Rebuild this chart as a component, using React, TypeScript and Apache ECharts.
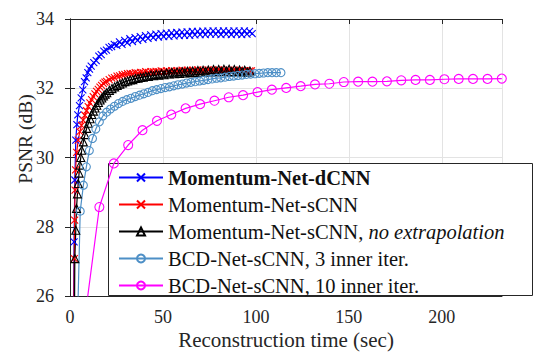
import React, { useEffect, useRef } from "react";
import * as echarts from "echarts";

const seriesNames = [
  "Momentum-Net-dCNN",
  "Momentum-Net-sCNN",
  "Momentum-Net-sCNN, no extrapolation",
  "BCD-Net-sCNN, 3 inner iter.",
  "BCD-Net-sCNN, 10 inner iter.",
];

const xTitle = "Reconstruction time (sec)";
const yTitle = "PSNR (dB)";
const xTicks = [0, 50, 100, 150, 200];
const yTicks = [26, 28, 30, 32, 34];

// Momentum-Net-dCNN
const dcnnTime = [1.5, 2.2, 2.6, 3.1, 3.7, 4.2, 5.1, 6.0, 6.9, 7.8, 8.7, 9.6, 10.5, 11.4, 12.8, 14.1, 15.5, 16.8, 18.2, 19.6, 21.0, 22.4, 23.8, 25.2, 26.6, 28.0, 29.4, 30.8, 32.2, 33.6, 35.0, 36.4, 37.8, 39.2, 40.6, 42.0, 43.4, 44.8, 46.2, 47.6, 49.0, 50.4, 51.8, 53.2, 54.6, 56.0, 57.4, 58.8, 60.2, 61.6, 63.0, 64.4, 65.8, 67.2, 68.6, 70.0, 71.4, 72.8, 74.2, 75.6, 77.0, 78.4, 79.8, 81.2, 82.6, 84.0, 85.4, 86.8, 88.2, 89.6, 91.0, 92.4, 93.8, 95.2, 96.6, 98.0];
const dcnnPsnr = [23.0, 27.56, 29.35, 30.5, 30.95, 31.23, 31.5, 31.72, 31.95, 32.19, 32.3, 32.45, 32.55, 32.64, 32.74, 32.8, 32.93, 32.97, 33.07, 33.1, 33.18, 33.2, 33.27, 33.24, 33.34, 33.27, 33.38, 33.31, 33.43, 33.35, 33.46, 33.38, 33.49, 33.41, 33.52, 33.44, 33.54, 33.46, 33.56, 33.48, 33.58, 33.49, 33.59, 33.5, 33.6, 33.51, 33.61, 33.52, 33.62, 33.53, 33.63, 33.53, 33.64, 33.54, 33.64, 33.55, 33.65, 33.55, 33.65, 33.56, 33.66, 33.56, 33.65, 33.55, 33.66, 33.56, 33.65, 33.55, 33.66, 33.56, 33.65, 33.55, 33.66, 33.56, 33.64, 33.58];

// Momentum-Net-sCNN
const scnnTime = [1.8, 2.3, 2.5, 2.7, 3.0, 3.6, 4.4, 5.3, 6.2, 7.1, 8.0, 8.9, 9.8, 10.7, 11.6, 12.5, 13.4, 14.3, 15.2, 16.1, 17.0, 17.9, 18.8, 19.7, 21.1, 22.5, 23.9, 25.3, 26.7, 28.1, 29.5, 30.9, 32.3, 33.7, 35.1, 36.5, 37.9, 39.3, 40.7, 42.1, 43.5, 44.9, 46.3, 47.7, 49.1, 50.5, 51.9, 53.3, 54.7, 56.1, 57.5, 58.9, 60.3, 61.7, 63.1, 64.5, 65.9, 67.3, 68.7, 70.1, 71.5, 72.9, 74.3, 75.7, 77.1, 78.5, 79.9, 81.3, 82.7, 84.1, 85.5, 86.9, 88.3, 89.7, 91.1, 92.5, 93.9, 95.3, 96.7, 97.6];
const scnnPsnr = [23.5, 27.08, 28.19, 29.06, 29.64, 30.15, 30.5, 30.75, 30.93, 31.08, 31.22, 31.35, 31.47, 31.58, 31.67, 31.76, 31.84, 31.91, 31.97, 32.03, 32.08, 32.14, 32.18, 32.2, 32.25, 32.29, 32.31, 32.35, 32.36, 32.39, 32.4, 32.42, 32.43, 32.42, 32.45, 32.44, 32.46, 32.45, 32.48, 32.46, 32.48, 32.47, 32.49, 32.47, 32.5, 32.48, 32.5, 32.48, 32.51, 32.49, 32.51, 32.49, 32.52, 32.5, 32.52, 32.49, 32.52, 32.5, 32.53, 32.5, 32.52, 32.5, 32.53, 32.5, 32.52, 32.5, 32.53, 32.49, 32.52, 32.5, 32.52, 32.49, 32.52, 32.5, 32.52, 32.49, 32.51, 32.49, 32.5, 32.5];

// Momentum-Net-sCNN, no extrapolation
const noexTime = [2.2, 2.6, 3.1, 3.5, 4.0, 4.4, 4.9, 5.3, 5.8, 6.3, 7.2, 8.1, 9.0, 9.9, 10.8, 11.7, 12.6, 13.5, 14.4, 15.3, 16.2, 17.1, 18.0, 18.9, 19.8, 21.2, 22.6, 24.0, 25.4, 26.8, 28.2, 29.6, 31.0, 32.4, 33.8, 35.2, 36.6, 38.0, 39.4, 40.8, 42.2, 43.6, 45.0, 46.4, 47.8, 49.2, 50.6, 52.0, 53.4, 54.8, 56.2, 57.6, 59.0, 60.4, 61.8, 63.2, 64.6, 66.0, 67.4, 68.8, 70.2, 71.6, 73.0, 74.4, 75.8, 77.2, 78.6, 80.0, 81.4, 82.8, 84.2, 85.6, 87.0, 88.4, 89.8, 91.2, 92.6, 94.0, 95.4, 96.8];
const noexPsnr = [23.5, 27.08, 27.9, 28.53, 28.95, 29.25, 29.55, 29.78, 30.0, 30.21, 30.45, 30.66, 30.84, 30.99, 31.12, 31.24, 31.34, 31.43, 31.51, 31.59, 31.66, 31.72, 31.78, 31.83, 31.87, 31.94, 31.99, 32.04, 32.08, 32.12, 32.15, 32.19, 32.21, 32.24, 32.25, 32.28, 32.29, 32.31, 32.32, 32.35, 32.34, 32.38, 32.36, 32.4, 32.38, 32.42, 32.39, 32.44, 32.41, 32.46, 32.42, 32.47, 32.43, 32.48, 32.44, 32.49, 32.45, 32.5, 32.45, 32.51, 32.46, 32.52, 32.47, 32.53, 32.47, 32.54, 32.48, 32.54, 32.48, 32.55, 32.49, 32.55, 32.48, 32.54, 32.48, 32.53, 32.47, 32.52, 32.46, 32.5];

// BCD-Net-sCNN, 3 inner iter.
const bcd3Time = [3.5, 5.5, 7.2, 8.8, 10.4, 12.1, 13.9, 15.8, 17.7, 19.7, 21.8, 23.9, 26.1, 28.3, 30.5, 32.8, 35.1, 37.4, 39.7, 42.0, 44.3, 46.6, 48.9, 51.2, 53.5, 55.8, 58.1, 60.4, 62.7, 65.0, 67.3, 69.6, 71.9, 74.2, 76.5, 78.8, 81.1, 83.4, 85.7, 88.0, 90.3, 92.6, 94.9, 97.2, 99.5, 101.8, 104.1, 106.4, 108.7, 111.0, 113.5];
const bcd3Psnr = [24.0, 28.45, 29.2, 29.73, 30.2, 30.55, 30.82, 31.03, 31.2, 31.31, 31.4, 31.48, 31.56, 31.62, 31.67, 31.71, 31.76, 31.8, 31.84, 31.88, 31.93, 31.96, 31.99, 32.02, 32.04, 32.07, 32.1, 32.12, 32.15, 32.17, 32.19, 32.21, 32.23, 32.25, 32.27, 32.29, 32.3, 32.32, 32.34, 32.35, 32.37, 32.38, 32.4, 32.41, 32.42, 32.43, 32.44, 32.45, 32.45, 32.45, 32.45];

// BCD-Net-sCNN, 10 inner iter.
const bcd10Time = [8.1, 15.8, 23.6, 31.3, 39.0, 46.8, 54.5, 62.2, 70.0, 77.7, 85.4, 93.1, 100.9, 108.6, 116.3, 124.1, 131.8, 139.5, 147.3, 155.0, 162.7, 170.5, 178.2, 185.9, 193.6, 201.4, 209.1, 216.8, 224.6, 232.3];
const bcd10Psnr = [25.4, 28.57, 29.83, 30.36, 30.79, 31.06, 31.24, 31.42, 31.54, 31.64, 31.74, 31.8, 31.89, 31.96, 32.01, 32.06, 32.11, 32.13, 32.18, 32.19, 32.19, 32.2, 32.23, 32.24, 32.24, 32.26, 32.27, 32.27, 32.27, 32.28];

const zip = (xs: number[], ys: number[]) => xs.map((x, i) => [x, ys[i]]);

const FONT = "Liberation Serif";
const AX = "#262626";
const TXT = "#111111";
const CROSS = "path://M0,0L10,10M0,10L10,0";
const LEG_FS = 20.5;

export default function App() {
  const ref = useRef<HTMLDivElement>(null);
  useEffect(() => {
    if (!ref.current) return;
    const chart = echarts.init(ref.current, undefined, { renderer: "svg" });
    const xMin = xTicks[0];
    const xMax = 232.4;
    const yMin = yTicks[0];
    const yMax = yTicks[yTicks.length - 1];
    const baseAxis = {
      axisLine: { show: true, lineStyle: { color: AX, width: 1 } },
      axisTick: { show: true, inside: true, length: 5, lineStyle: { color: AX } },
    };
    const mk = (
      name: string,
      data: number[][],
      color: string,
      symbol: string,
      size: number
    ) => ({
      name,
      type: "line",
      data,
      symbol,
      symbolSize: size,
      showAllSymbol: true,
      clip: true,
      lineStyle: { color, width: 1.2 },
      itemStyle: { color: "transparent", borderColor: color, borderWidth: 1.1 },
      emphasis: { disabled: true },
    });
    chart.setOption({
      animation: false,
      backgroundColor: "#ffffff",
      textStyle: { fontFamily: FONT },
      grid: {
        left: 70,
        top: 19,
        width: 432,
        height: 277,
        containLabel: false,
        outerBoundsMode: "none",
      },
      xAxis: [
        {
          ...baseAxis,
          type: "value",
          min: xMin,
          max: xMax,
          interval: 50,
          axisLabel: {
            margin: 12,
            fontFamily: FONT,
            fontSize: 18,
            color: AX,
            formatter: (v: number) => (xTicks.includes(v) ? String(v) : ""),
          },
          splitLine: { show: true, lineStyle: { color: "#e3e3e3", width: 1 } },
        },
        {
          ...baseAxis,
          type: "value",
          position: "top",
          min: xMin,
          max: xMax,
          interval: 50,
          axisLabel: { show: false },
          splitLine: { show: false },
        },
      ],
      yAxis: [
        {
          ...baseAxis,
          type: "value",
          min: yMin,
          max: yMax,
          interval: 2,
          axisLabel: { margin: 16, fontFamily: FONT, fontSize: 18, color: AX },
          splitLine: { show: true, lineStyle: { color: "#e3e3e3", width: 1 } },
        },
        {
          ...baseAxis,
          type: "value",
          position: "right",
          min: yMin,
          max: yMax,
          interval: 2,
          axisLabel: { show: false },
          splitLine: { show: false },
        },
      ],
      graphic: [
        {
          type: "text",
          x: 25,
          y: 139,
          rotation: Math.PI / 2,
          style: {
            text: yTitle,
            fontFamily: FONT,
            fontSize: 19.5,
            fill: AX,
            textAlign: "center",
            textVerticalAlign: "middle",
          },
        },
        {
          type: "text",
          x: 286,
          y: 340,
          style: {
            text: xTitle,
            fontFamily: FONT,
            fontSize: 21,
            fill: AX,
            textAlign: "center",
            textVerticalAlign: "middle",
          },
        },
        {
          type: "rect",
          z: 3,
          shape: { x: 108.5, y: 163.5, width: 424, height: 132 },
          style: { fill: "#ffffff", stroke: AX, lineWidth: 1 },
        },
      ],
      legend: {
        orient: "vertical",
        left: 108,
        top: 163,
        z: 5,
        data: seriesNames,
        padding: [4, 5, 4, 10],
        itemWidth: 44,
        itemHeight: 10,
        itemGap: 6,
        selectedMode: false,
        textStyle: {
          fontFamily: FONT,
          fontSize: LEG_FS,
          color: TXT,
          lineHeight: 20,
          rich: {
            b: { fontFamily: FONT, fontSize: LEG_FS, fontWeight: "bold", color: TXT, lineHeight: 20 },
            n: { fontFamily: FONT, fontSize: LEG_FS, color: TXT, lineHeight: 20 },
            i: { fontFamily: FONT, fontSize: LEG_FS, fontStyle: "italic", color: TXT, lineHeight: 20 },
          },
        },
        formatter: (name: string) => {
          if (name === seriesNames[0]) return `{b|${name}}`;
          if (name === seriesNames[2]) return `{n|Momentum-Net-sCNN, }{i|no extrapolation}`;
          return `{n|${name}}`;
        },
      },
      series: [
        mk(seriesNames[0], zip(dcnnTime, dcnnPsnr), "#0000ff", CROSS, 7),
        mk(seriesNames[1], zip(scnnTime, scnnPsnr), "#ff0000", CROSS, 7),
        mk(seriesNames[2], zip(noexTime, noexPsnr), "#000000", "triangle", 8),
        mk(seriesNames[3], zip(bcd3Time, bcd3Psnr), "#4d8fc6", "circle", 8),
        mk(seriesNames[4], zip(bcd10Time, bcd10Psnr), "#ff00ff", "circle", 9),
      ],
    });
    return () => chart.dispose();
  }, []);
  return <div ref={ref} style={{ width: 540, height: 352, position: "absolute", left: 0, top: 0 }} />;
}
